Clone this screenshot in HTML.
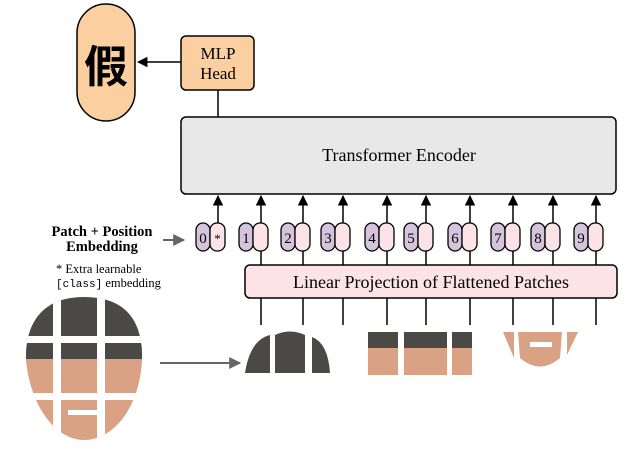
<!DOCTYPE html><html><head><style>body{margin:0;background:#fff}svg{display:block}text{font-family:"Liberation Serif",serif}</style></head><body>
<svg width="627" height="449" viewBox="0 0 627 449">
<defs><marker id="a" viewBox="0 0 10 10" refX="9" refY="5" markerWidth="7" markerHeight="7" orient="auto"><path d="M0,0L10,5L0,10z" fill="#000"/></marker>
<marker id="g" viewBox="0 0 10 10" refX="9" refY="5" markerWidth="6" markerHeight="6" orient="auto"><path d="M0,0L10,5L0,10z" fill="#666"/></marker></defs>
<rect x="77" y="4" width="58" height="117" rx="29" fill="#fbcf9f" stroke="#000" stroke-width="1.5"/>
<text x="106" y="82" font-weight="bold" font-size="44" text-anchor="middle" style="font-family:'Noto Sans CJK SC',sans-serif">假</text>
<rect x="181" y="36" width="73" height="54" rx="5" fill="#fbcf9f" stroke="#000" stroke-width="1.5"/>
<text x="218" y="59" font-size="17" text-anchor="middle">MLP</text><text x="218" y="79" font-size="17" text-anchor="middle">Head</text>
<line x1="181" y1="62" x2="138" y2="62" stroke="#000" stroke-width="1.5" marker-end="url(#a)"/>
<line x1="218" y1="90" x2="218" y2="117" stroke="#000" stroke-width="1.5"/>
<rect x="181" y="117" width="435" height="77" rx="5" fill="#e8e8e8" stroke="#000" stroke-width="1.5"/>
<text x="399" y="161" font-size="18" text-anchor="middle">Transformer Encoder</text>
<rect x="245" y="265" width="372" height="33" rx="5" fill="#fbe3e8" stroke="#000" stroke-width="1.5"/>
<text x="431" y="288" font-size="18" text-anchor="middle">Linear Projection of Flattened Patches</text>
<line x1="218" y1="223" x2="218" y2="196" stroke="#000" stroke-width="1.5" marker-end="url(#a)"/>
<g id="toks"></g>
<text x="102" y="236" font-size="14.5" font-weight="bold" text-anchor="middle">Patch + Position</text>
<text x="102" y="251" font-size="14.5" font-weight="bold" text-anchor="middle">Embedding</text>
<line x1="163" y1="240" x2="184" y2="240" stroke="#666" stroke-width="2" marker-end="url(#g)"/>
<text x="56" y="273" font-size="12.5">* Extra learnable</text>
<text x="56" y="287" font-size="12.5"><tspan style="font-family:'Liberation Mono',monospace" font-size="11">[class]</tspan> embedding</text>
<line x1="160" y1="363" x2="240" y2="363" stroke="#666" stroke-width="2" marker-end="url(#g)"/>
<clipPath id="f"><path d="M84,297 C125,297 143,320 142,360 C140,405 115,440 84,440 C55,440 30,405 26,360 C25,320 45,297 84,297Z"/></clipPath>
<g clip-path="url(#f)">
<rect x="20" y="290" width="130" height="60" fill="#4a4946"/>
<rect x="20" y="345" width="130" height="100" fill="#d9a284"/>
<rect x="20" y="345" width="130" height="14" fill="#4a4946"/>
<rect x="68" y="410" width="34" height="5" fill="#fff"/>
<rect x="53" y="290" width="8" height="160" fill="#fff"/><rect x="97" y="290" width="8" height="160" fill="#fff"/>
<rect x="20" y="336" width="130" height="7" fill="#fff"/><rect x="20" y="393" width="130" height="7" fill="#fff"/>
</g>
<path d="M245,373 Q250,340 270,335 L270,373Z" fill="#4a4946"/>
<path d="M275,373 L275,335 Q290,328 305,335 L305,373Z" fill="#4a4946"/>
<path d="M312,373 L312,337 Q328,343 330,373Z" fill="#4a4946"/>
<rect x="368" y="332" width="30" height="43" fill="#d9a284"/><rect x="368" y="332" width="30" height="16" fill="#4a4946"/>
<rect x="404" y="332" width="43" height="43" fill="#d9a284"/><rect x="404" y="332" width="43" height="16" fill="#4a4946"/>
<rect x="452" y="332" width="20" height="43" fill="#d9a284"/><rect x="452" y="332" width="20" height="16" fill="#4a4946"/>
<path d="M503,332 L514,332 L514,358Z" fill="#d9a284"/>
<path d="M518,332 L562,332 L560,358 Q540,375 520,358Z" fill="#d9a284"/><rect x="530" y="342" width="22" height="5" fill="#fff"/>
<path d="M567,332 L578,332 L567,355Z" fill="#d9a284"/>
</svg>
<script>
var xs=[218,261,303,343,387,426,470,513,553,596],s='';
var g=document.getElementById('toks');
xs.forEach(function(x,i){
 s+='<rect x="'+(x-22)+'" y="223" width="14" height="28" rx="7" fill="#d5c5dc" stroke="#000" stroke-width="1.3"/>';
 s+='<rect x="'+(x-8)+'" y="223" width="15" height="28" rx="7" fill="#fbe3e8" stroke="#000" stroke-width="1.3"/>';
 s+='<text x="'+(x-15)+'" y="243" font-size="15" text-anchor="middle" font-family="Liberation Serif,serif">'+i+'</text>';
 if(i==0)s+='<text x="'+(x-0.5)+'" y="243" font-size="13" text-anchor="middle" font-family="Liberation Serif,serif">*</text>';
 if(i>0){s+='<line x1="'+x+'" y1="223" x2="'+x+'" y2="196" stroke="#000" stroke-width="1.5" marker-end="url(#a)"/>';
 s+='<line x1="'+x+'" y1="251" x2="'+x+'" y2="265" stroke="#000" stroke-width="1.5"/>';
 s+='<line x1="'+x+'" y1="298" x2="'+x+'" y2="325" stroke="#000" stroke-width="1.5"/>';}
});
g.innerHTML=s;
</script>
</body></html>
